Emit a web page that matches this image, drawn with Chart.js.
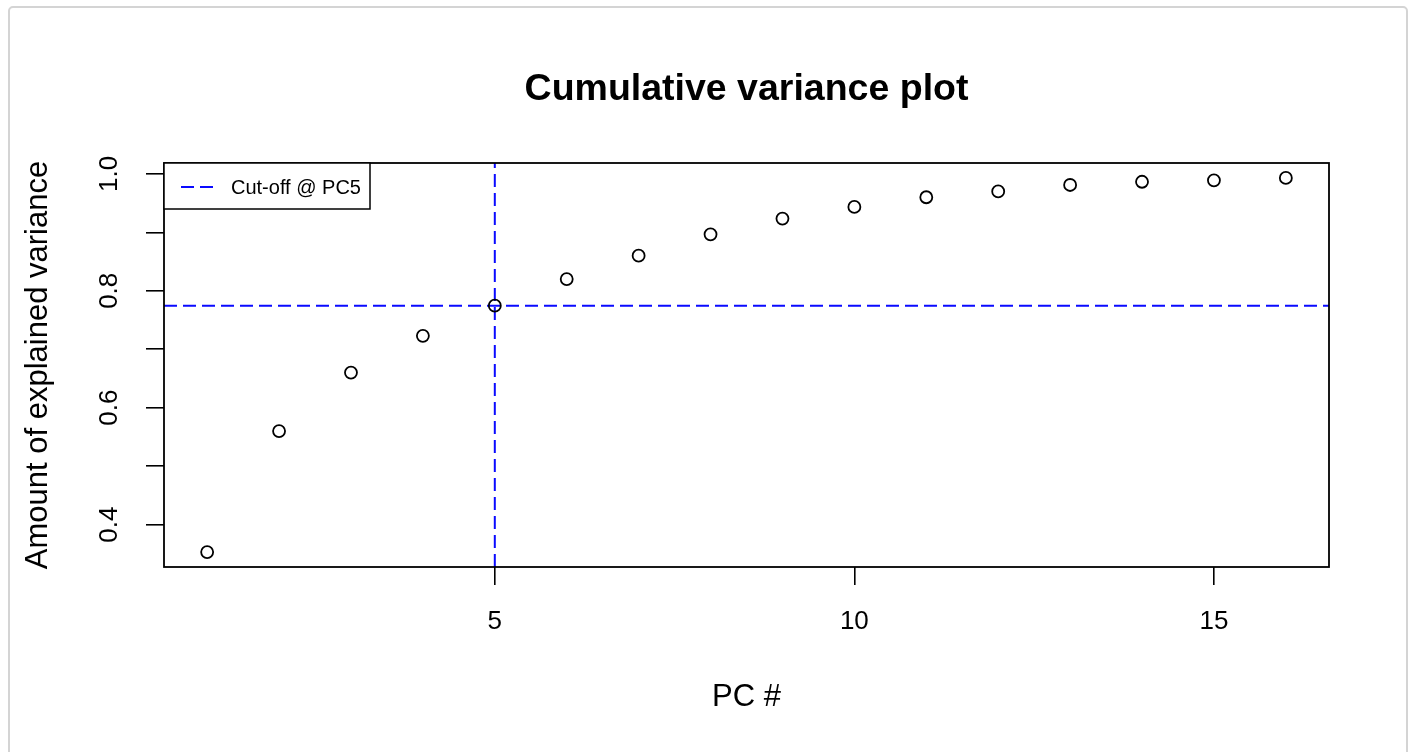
<!DOCTYPE html>
<html>
<head>
  <meta charset="UTF-8">
  <title>Cumulative variance plot</title>
  <script src="https://cdn.jsdelivr.net/npm/chart.js"></script>
  <style>
    html, body { margin: 0; padding: 0; background: #fff; overflow: hidden; }
    .card {
      position: absolute; left: 8px; top: 6px; width: 1400px; height: 800px;
      border: 2px solid #d4d4d4; border-radius: 5px; box-sizing: border-box;
    }
    #wrap { position: absolute; left: 0; top: 0; width: 1418px; height: 752px; }
  </style>
</head>
<body>
<div class="card"></div>
<div id="wrap"><canvas id="myChart"></canvas></div>

<script>
  // principal components and cumulative share of variance
  const pcs = [1, 2, 3, 4, 5, 6, 7, 8, 9, 10, 11, 12, 13, 14, 15, 16];
  const cumVar = [0.353, 0.560, 0.660, 0.723, 0.7745, 0.820, 0.860, 0.8965, 0.9235, 0.9435,
                  0.960, 0.970, 0.981, 0.9865, 0.989, 0.993];
  const cutoffPC = 5;
  const xTicks = [5, 10, 15];
  const yTicks = [0.4, 0.5, 0.6, 0.7, 0.8, 0.9, 1.0];
  const yLabels = ['0.4', '', '0.6', '', '0.8', '', '1.0'];

  const FONT = "'Liberation Sans', Arial, sans-serif";
  const cutoff = cumVar[pcs.indexOf(cutoffPC)];

  // R style axis limits: data range plus 4% each side
  const xMin = pcs[0] - 0.04 * (pcs[pcs.length - 1] - pcs[0]);
  const xMax = pcs[pcs.length - 1] + 0.04 * (pcs[pcs.length - 1] - pcs[0]);
  const vLo = Math.min(...cumVar), vHi = Math.max(...cumVar);
  const yMin = vLo - 0.04 * (vHi - vLo);
  const yMax = vHi + 0.04 * (vHi - vLo);

  // box round the plot + legend in the top-left corner
  const boxPlugin = {
    id: 'rbox',
    afterDraw(chart) {
      const c = chart.ctx, a = chart.chartArea;
      c.save();
      c.strokeStyle = '#000';
      c.lineWidth = 1.8;
      c.strokeRect(a.left, a.top, a.right - a.left, a.bottom - a.top);

      // legend
      const lw = 206, lh = 46;
      c.fillStyle = '#fff';
      c.fillRect(a.left, a.top, lw, lh);
      c.lineWidth = 1.5;
      c.strokeRect(a.left, a.top, lw, lh);
      const ds = chart.data.datasets[1];
      c.strokeStyle = ds.borderColor;
      c.lineWidth = ds.borderWidth;
      c.setLineDash(ds.borderDash);
      c.beginPath();
      c.moveTo(a.left + 17, a.top + 24);
      c.lineTo(a.left + 51, a.top + 24);
      c.stroke();
      c.setLineDash([]);
      c.fillStyle = '#000';
      c.font = '20px ' + FONT;
      c.textBaseline = 'middle';
      c.fillText(ds.label, a.left + 67, a.top + 25);
      c.restore();
    }
  };

  const ctx = document.getElementById('myChart');
  const chart = new Chart(ctx, {
    type: 'scatter',
    data: {
      datasets: [{
        label: 'Cumulative variance',
        data: pcs.map((p, i) => ({x: p, y: cumVar[i]})),
        pointStyle: 'circle',
        pointRadius: 6,
        pointBorderWidth: 1.8,
        borderColor: '#000',
        backgroundColor: 'rgba(0,0,0,0)',
        order: 0
      }, {
        type: 'line',
        label: 'Cut-off @ PC' + cutoffPC,
        data: [{x: xMin, y: cutoff}, {x: xMax, y: cutoff}],
        borderColor: '#0a0aff',
        borderWidth: 2,
        borderDash: [13, 6],
        pointRadius: 0,
        fill: false,
        order: 1
      }, {
        type: 'line',
        label: 'PC cut',
        data: [{x: cutoffPC, y: yMin}, {x: cutoffPC, y: yMax}],
        borderColor: '#0a0aff',
        borderWidth: 2,
        borderDash: [13, 6],
        pointRadius: 0,
        fill: false,
        order: 1
      }]
    },
    options: {
      responsive: true,
      maintainAspectRatio: false,
      animation: false,
      events: [],
      layout: { padding: { left: 0, top: 0, right: 89, bottom: 0 } },
      plugins: {
        legend: { display: false },
        tooltip: { enabled: false },
        title: {
          display: true,
          fullSize: false,
          text: 'Cumulative variance plot',
          color: '#000',
          font: { family: FONT, size: 37.5, weight: 'bold', lineHeight: 1.2 },
          padding: { top: 67.5, bottom: 50.5 }
        }
      },
      scales: {
        x: {
          type: 'linear',
          min: xMin,
          max: xMax,
          afterBuildTicks: s => { s.ticks = xTicks.map(v => ({value: v})); },
          afterFit: s => { s.height = 185; },
          grid: { drawOnChartArea: false, drawTicks: true, tickLength: 18, color: '#000', lineWidth: 1.6 },
          border: { display: false },
          ticks: {
            autoSkip: false, maxRotation: 0, color: '#000', padding: 21,
            font: { family: FONT, size: 26 },
            callback: v => String(v)
          },
          title: {
            display: true, text: 'PC #', color: '#000',
            font: { family: FONT, size: 31, lineHeight: 1.2 },
            padding: { top: 0, bottom: 36.4 }
          }
        },
        y: {
          type: 'linear',
          min: yMin,
          max: yMax,
          afterBuildTicks: s => { s.ticks = yTicks.map(v => ({value: v})); },
          afterFit: s => { s.width = 164; },
          grid: { drawOnChartArea: false, drawTicks: true, tickLength: 18, color: '#000', lineWidth: 1.6 },
          border: { display: false },
          ticks: {
            autoSkip: false, minRotation: 90, maxRotation: 90, crossAlign: 'center',
            color: '#000', padding: 18, font: { family: FONT, size: 26 },
            callback: (v, i) => yLabels[i]
          },
          title: {
            display: true, text: 'Amount of explained variance', color: '#000',
            font: { family: FONT, size: 31, lineHeight: 1.2 },
            padding: { top: 19.4, bottom: 0 }
          }
        }
      }
    },
    plugins: [boxPlugin]
  });
</script>
</body>
</html>
